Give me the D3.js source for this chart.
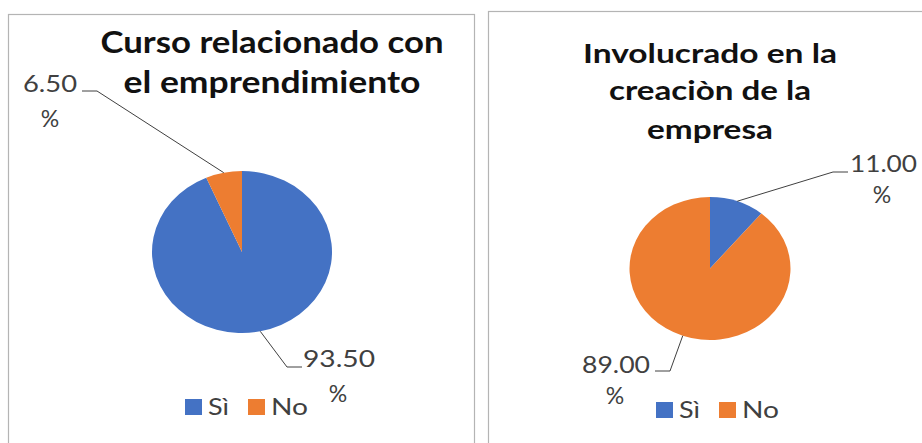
<!DOCTYPE html>
<html>
<head>
<meta charset="utf-8">
<script src="https://cdn.jsdelivr.net/npm/d3@7"></script>
<style>
  body { margin: 0; background: #fff; }
  text { font-family: Lato, "Open Sans", sans-serif; }
</style>
</head>
<body>
<script>
const categories = ['Sì', 'No']
const colors = ['#4472C4', '#ED7D31']

const cursoTitle = ['Curso relacionado con', 'el emprendimiento']
const cursoValues = [93.5, 6.5]

const involTitle = ['Involucrado en la', 'creaciòn de la', 'empresa']
const involValues = [11.0, 89.0]

const dimensions = { width: 922, height: 443 }

const svg = d3.select('body').append('svg')
    .attr('width', dimensions.width)
    .attr('height', dimensions.height)

const fmt = d3.format('.2f')

// layout of each panel (positions only)
const panels = [
    {
        title: cursoTitle, values: cursoValues,
        box: { x: 8.5, y: 14.5, w: 466 },
        cx: 242, cy: 252, rx: 90, ry: 81,
        titleX: 272, titleY: [53, 93], titleW: [343, 297], titleSize: 30,
        labels: [
            { elbow: [287, 367], end: [302, 367], numX: 303, numY: 367, numW: 72, anchor: 'start', pctX: 338, pctY: 402 },
            { elbow: [97, 91], end: [82, 91], numX: 23, numY: 92, numW: 54, anchor: 'start', pctX: 50, pctY: 127 }
        ],
        legendX: 185, legendY: 399
    },
    {
        title: involTitle, values: involValues,
        box: { x: 488.5, y: 11.5, w: 440 },
        cx: 710, cy: 268.5, rx: 80.5, ry: 71.5,
        titleX: 710, titleY: [63, 100, 139], titleW: [254, 202, 126], titleSize: 27,
        labels: [
            { elbow: [833, 172], end: [848, 172], numX: 850, numY: 172, numW: 67, anchor: 'start', pctX: 882, pctY: 203 },
            { elbow: [670, 371], end: [655, 371], numX: 582, numY: 373, numW: 68, anchor: 'start', pctX: 615, pctY: 404 }
        ],
        legendX: 656, legendY: 402
    }
]

const pie = d3.pie().sort(null).value(d => d)

panels.forEach(function (p) {
    const g = svg.append('g')

    g.append('rect')
        .attr('x', p.box.x)
        .attr('y', p.box.y)
        .attr('width', p.box.w)
        .attr('height', 460)
        .attr('fill', 'none')
        .attr('stroke', '#b4b4b4')
        .attr('stroke-width', 1.2)

    g.selectAll('.title')
        .data(p.title)
        .enter()
        .append('text')
        .attr('x', p.titleX)
        .attr('y', (d, i) => p.titleY[i])
        .attr('text-anchor', 'middle')
        .attr('font-size', p.titleSize)
        .attr('font-weight', 700)
        .attr('fill', '#111')
        .attr('textLength', (d, i) => p.titleW[i])
        .attr('lengthAdjust', 'spacingAndGlyphs')
        .text(d => d)

    const arcs = pie(p.values)
    const arc = d3.arc().innerRadius(0).outerRadius(p.rx)

    g.append('g')
        .attr('transform', `translate(${p.cx},${p.cy}) scale(1,${p.ry / p.rx})`)
        .selectAll('path')
        .data(arcs)
        .enter()
        .append('path')
        .attr('d', arc)
        .attr('fill', (d, i) => colors[i])

    // leader lines and data labels
    arcs.forEach(function (a, i) {
        const mid = (a.startAngle + a.endAngle) / 2
        const sx = p.cx + p.rx * Math.sin(mid)
        const sy = p.cy - p.ry * Math.cos(mid)
        const l = p.labels[i]

        g.append('polyline')
            .attr('points', [[sx, sy], l.elbow, l.end].map(q => q.join(',')).join(' '))
            .attr('fill', 'none')
            .attr('stroke', '#404040')
            .attr('stroke-width', 1)

        g.append('text')
            .attr('x', l.numX)
            .attr('y', l.numY)
            .attr('font-size', 23)
            .attr('fill', '#404040')
            .attr('textLength', l.numW)
            .attr('lengthAdjust', 'spacingAndGlyphs')
            .text(fmt(a.data))

        g.append('text')
            .attr('x', l.pctX)
            .attr('y', l.pctY)
            .attr('text-anchor', 'middle')
            .attr('font-size', 23)
            .attr('fill', '#404040')
            .text('%')
    })

    // legend
    const legend = g.append('g')
        .attr('transform', `translate(${p.legendX},${p.legendY})`)

    const item = legend.selectAll('.item')
        .data(categories)
        .enter()
        .append('g')
        .attr('transform', (d, i) => `translate(${i * 63},0)`)

    item.append('rect')
        .attr('width', 17)
        .attr('height', 16)
        .attr('fill', (d, i) => colors[i])

    item.append('text')
        .attr('x', 23)
        .attr('y', 16)
        .attr('font-size', 23)
        .attr('fill', '#404040')
        .attr('textLength', (d, i) => i === 0 ? 21 : 37)
        .attr('lengthAdjust', 'spacingAndGlyphs')
        .text(d => d)
})
</script>
</body>
</html>
